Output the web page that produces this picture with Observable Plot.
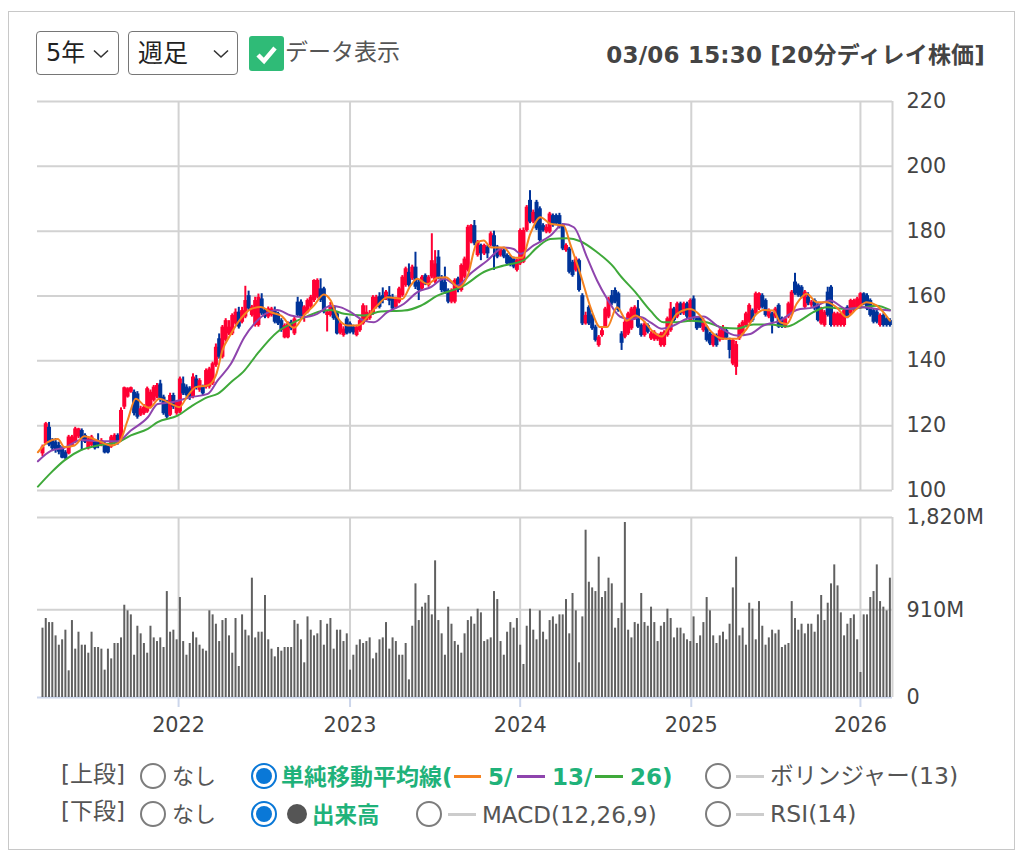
<!DOCTYPE html>
<html lang="ja">
<head>
<meta charset="utf-8">
<script src="https://cdn.jsdelivr.net/npm/d3@7"></script>
<script src="https://cdn.jsdelivr.net/npm/@observablehq/plot@0.6"></script>
<style>
html,body{margin:0;padding:0;background:#fff}
#page{position:relative;width:1024px;height:857px;overflow:hidden;font-family:"DejaVu Sans","Noto Sans CJK JP",sans-serif;color:#555}
#page svg{position:absolute;left:0;background:transparent;overflow:visible;font-family:"DejaVu Sans","Noto Sans CJK JP",sans-serif}
.t{position:absolute;white-space:nowrap;transform:translateY(-50%);line-height:1}
.box{position:absolute;box-sizing:border-box}
.g{color:#1fb27a;font-weight:700}
</style>
</head>
<body>
<div id="page"></div>
<script>
const opens=[111.3,114.4,119.5,115.4,114.9,113.9,112.9,111.8,111.3,113.9,
114.9,116.5,118.5,117,112.9,113.9,114.9,114.9,113.9,114.4,
113.9,113.4,114.9,117,115.4,125.7,128.8,130.3,130.3,129.8,
123.2,123.7,124.2,125.7,127.8,128.8,132.9,128.8,127.2,123.2,
129.3,123.7,124.2,132.9,131.9,131.4,128.8,134.4,130.9,131.9,
131.9,131.9,132.9,138.6,146.8,141.1,146.3,148.3,148.3,151.4,
155,151.9,153.5,160.1,154,150.9,150.9,159.1,155.5,153.5,
154,155.5,154.5,152.4,147.1,147.1,151.9,148.3,158.1,158.1,
154,155,156.6,158.6,159.6,162.2,162.2,154,154,156.5,
154.5,148.5,147.8,152.9,151.4,150.4,147.8,149.3,151.4,152.4,
153,154.5,156.5,159.8,160.1,159.1,160.1,159.6,156.5,158.1,
160.1,163.2,167.3,165.3,168.9,164.2,162.2,166.3,163.2,165.8,
164.3,172,165.8,164.2,161.7,158.1,158.1,165.3,161.7,165.8,
167.9,176.6,181.7,172.5,175.6,173,175.1,175.6,178.6,175.1,
172.5,174,172.5,172,171.4,167.9,169.9,170.4,180.2,189.5,
182.8,188.9,186.9,181.7,179.7,179.7,184.8,184.8,184.8,181.7,
174,174.5,170.4,167.9,170.9,160.1,151.4,156.5,154,150.4,
144.7,147.8,150.4,153.5,160.1,161.7,160.7,148.3,147.3,148.3,
149.9,153,156,150.9,147.8,150.9,146.8,146.5,146.5,144.7,
144.7,147.8,149.3,156,153.5,157.6,154.5,157.6,152.4,159.1,
153,153.5,149.3,150.4,148.3,144.7,147.8,146.3,146.8,149.3,
146.3,139,138,146.8,148.3,150.9,151.9,155.5,154.5,156,
160.1,158.6,153.5,154.5,153.5,157.1,153,150.4,153.5,154.5,
164.3,163.2,162.7,156.5,159.6,157.1,158.6,157.1,151.4,150.9,
161.2,162.7,150.9,150.9,150.9,150.9,156.5,154.5,155.5,156.5,
156.5,160.7,160.1,158.6,155.5,155,150.9,154,153,152.4];
const closes=[113.4,120.6,114,112.9,112.3,111.8,110,109.8,116.5,116.5,
119,119,115.4,114.9,115.9,116.5,112.9,113.9,115.4,111.6,
111.6,116.5,117,114.9,124.7,131.7,131.4,131.7,123.7,122.6,
125.2,125.7,131.4,130.3,131.9,132.4,127.8,123.7,122.6,129.3,
125.7,127.2,134.4,129.8,129.3,128.8,135,131.9,133.9,129.8,
137,137.5,139.1,144.2,141.1,150.4,152.4,150.4,154,155,
150.4,155.5,158.6,156,156.6,158.6,159.6,154.5,153.5,156,
156,151.9,151.4,149.4,150.9,151.4,149.9,152.9,154,153.5,
156.6,158.6,159.6,164.8,164.8,158.6,155,155,157,153,
148.3,151.4,149.8,148.3,148.8,148.6,150.4,152.4,157,155,
154.5,159.6,159.6,156.5,158.6,161.2,158.4,156,159.1,162.2,
165.8,168.4,163.2,168.9,162.7,161.7,165.8,163.7,165.8,170.9,
169.9,165.8,161.7,161.2,158.1,161.7,164.8,161.7,169.4,171.4,
181.2,181.7,176.1,176.6,173,175.6,173,179.2,175.1,172,
174.5,172,169.9,169.4,168.9,170.9,180.2,180.2,187.4,182.8,
185.8,180.7,177.1,180.2,181.2,185.3,181.7,182.3,181.2,174.5,
175.6,167.3,166.3,171.4,161.7,151.4,154,151.4,149.9,146.3,
147.3,149.3,156,159.1,157.6,158.1,155.5,145.4,151.9,154.5,
156,156.5,150.4,147.8,151.4,148.8,148.3,148.8,147.8,148.3,
148.8,153,156,152.4,157.6,154.5,157.6,153.5,158.6,153,
149.9,150.4,152.4,146.3,145.2,147.8,144.7,149.3,150.2,147,
143.2,146.3,145,150.9,151.9,154.5,157.1,152.4,160.7,160.7,
156.5,154,155.5,151.9,156,150.4,150.4,153,157.6,161.2,
160.7,160.1,159.6,161.2,157.6,158.1,156,152.4,156,155,
154,150.9,154.5,154.5,154.5,155.5,153.5,158.6,158.6,159.1,
160.7,157.6,156,154,151.9,151.9,154,150.9,150.9,150.9];
const highs=[114,121,121,116,116,114.9,113.5,112.3,117,117,
119.5,119.2,119,117.5,116.5,117,115.4,117.5,116,115,
114.4,117,117.5,117.5,125.5,131.9,131.7,131.9,131,130.5,
126,126.5,131.9,131,132.4,133,134,129.4,127.8,130,
130,127.8,135,135,132.6,132,136,135.5,134.5,132.5,
137.5,138,139.6,145.2,148.3,150.9,153,152.4,154.5,156,
156.5,156.5,163,161.5,157.1,159.6,160.6,160.7,156,156.6,
156.5,156.6,155,153,151.4,152,152.5,153.5,159.6,158.8,
157,159.1,160.2,165,165.3,165.3,162.7,155.5,158,157,
155,152,150.5,153.5,152,151,151,153,157.6,157,
155.5,160.1,160.2,161,162.5,161.7,162.9,160.5,159.6,162.7,
166.3,168.9,169.9,169.5,173.5,165,166.3,166.8,166.3,179.2,
174,174,166.3,168.9,162.2,162.2,165.3,165.8,169.9,172,
181.8,182,183.3,177.1,176,176,175.6,179.8,180,175.6,
175,174.5,173,172.5,172,171.4,180.7,181,187.9,192.5,
186.5,189.5,187.5,182.3,182,185.8,185.3,185.3,185.5,182.3,
176.1,175,171,172,171.4,160.7,155,157,154.5,151,
147.8,150,156.5,159.6,161.7,162.5,161.2,149,152.4,155,
156.5,157,158.6,151.4,152,151.4,149,149.3,148.3,148.8,
149.3,153.5,158,156.5,158.1,158.1,158.1,158.1,159.1,160,
153.5,154,153,150.9,148.8,148.3,148.3,149.9,150.9,150,
147,146.8,146,151.4,152.4,155,157.6,156,161.2,161,
160.7,159.1,156,155,156.5,157.6,153.5,153.5,158.1,161.7,
167,163.7,163.2,161.7,161,158.6,159.1,157.6,156.5,155.5,
162.7,163.2,155,155,155,156,157,159,159,159.6,
161,161,160.7,159.1,156,155.5,154.5,154.5,153.5,153];
const lows=[110.5,114,113.5,112,111.5,111,109.8,109.5,111,113.5,
114.5,116,112.3,114.5,112.5,113.5,112.5,112.9,113.5,111.3,
111.3,113,114.5,114,115,125,128.5,130,123,122,
122.8,123.2,123.8,125.2,127.3,128.3,127.2,123.2,122,122.8,
125,123.2,123.7,129.3,128.8,127.8,128.3,131,130.3,129.3,
131.3,131.3,132.4,138,140.5,140.6,145.8,147.8,147.8,151,
149.8,151.4,153,155.5,153.5,150.4,150.4,154,153,153,
153.5,151.4,150.9,148.8,146.8,146.8,149.3,147.8,153.5,153,
151.9,154.5,156,158,159.1,158,154.5,148.9,153.5,152.5,
148,148,147.3,148,148.3,148,147.4,148.8,151,152,
152.5,154,156,156,157.6,158.6,157,155.5,156,157.6,
159.6,162.7,162.7,164.8,162,158.6,161.7,163.2,162.7,165.3,
163.8,165,161,160.5,157.6,157.6,157.6,161,161.2,165.3,
167.4,176.1,175.5,172,170.9,172.5,171.5,175.1,167.9,171.5,
172,171.5,169.4,169,168.4,167.4,169.4,170,179.7,182.3,
182.3,180.2,176.6,179.7,179.2,179.2,181.2,181.7,180.7,174,
173.5,166.8,165.8,167.4,161.2,150.9,151,150.9,149.4,145.8,
144.2,147.3,150,153,157,157.6,155,143.2,146.8,147.8,
149.4,152.5,150,147.3,147.3,148.3,146.3,146,146,144.2,
144.2,147.3,148.8,151.9,153,154,154,153,151.9,152.5,
149.4,150,148.8,145.8,144.7,144.2,144.2,145.8,146.3,146.5,
140.6,138.5,135.5,146.3,147.8,150.4,151.4,151.9,154,155.5,
156,153.5,153,148.3,153,150,150,150,153,154,
160.2,159.6,159.1,156,157,156.5,155.5,152,151,150.4,
153.5,150.4,150.4,150.4,150.4,150.4,153,154,155,156,
156,157,155.5,153.5,151.4,151.4,150.4,150.4,150.4,150.4];
const volumes=[720,820,778,778,640,543,599,699,277,799,502,678,543,543,460,678,519,519,502,284,
502,401,561,561,619,958,900,858,439,740,661,561,460,740,619,581,619,519,1100,678,
699,599,1038,581,439,561,678,619,543,502,481,900,858,761,581,799,820,640,460,820,
322,858,699,640,1239,619,678,678,1059,599,502,422,519,481,519,519,519,799,761,599,
360,837,699,640,661,799,543,761,820,
502,699,699,581,661,284,439,543,599,561,581,619,401,460,599,619,778,502,619,581,
439,439,561,183,740,1180,799,938,979,1059,858,1419,799,661,439,938,761,581,543,460,
661,799,837,761,917,879,581,599,619,1100,1017,581,439,678,778,720,820,543,343,740,
917,699,599,900,678,599,799,837,761,858,858,1017,661,1080,900,360,837,1737,1197,1138,
1100,1457,1038,1100,1239,1180,720,820,
979,1817,699,619,778,761,1080,778,740,938,778,581,740,778,917,820,619,720,720,661,
599,581,837,561,640,778,1038,900,640,561,640,678,599,761,1138,1457,640,720,543,979,
917,599,996,740,543,619,699,661,699,519,543,561,996,820,699,761,661,761,761,678,
858,1059,799,979,1180,1377,1159,879,640,761,820,858,599,260,858,858,1038,1100,1377,996,
938,900,1239];
// moving averages read as [week, price] points from the picture
const ma5=[[-1.4,111.8],[1.6,114.9],[4.7,115.9],[6.7,113.4],[9.8,113.9],[12.8,116.7],[16.9,115.4],[21,113.9],[23.5,114.9],[26,121.6],[28.5,128.3],[31.1,126.2],[32.7,125.5],[35.7,128.3],[39.3,126.7],[41.8,125.7],[44.4,129.3],[46.9,131.9],[50.5,132.4],[53,135.5],[55,143.2],[57.6,148.3],[60.6,153],[63.7,156],[66.7,156.6],[69.8,155],[72.8,154],[76.9,150.2],[79.9,154],[83,157.1],[86,160.5],[88.1,158.6],[90.1,153.5],[93.2,150.9],[96.2,150.9],[99.3,153.5],[102.3,157],[105.4,159.6],[110,159.1],[112.5,163.2],[114.6,165.3],[117.6,163.7],[120.7,165.6],[123.2,165.8],[127.3,162.7],[129.8,165.8],[132.9,176.6],[134.9,177.1],[137,175],[141,175],[144,171.8],[146.6,171.8],[149.1,179.2],[152.2,184.3],[155.2,182.3],[159.3,181.7],[161.3,176],[164.4,166.8],[167.5,156.5],[170.5,150.4],[172.6,150.4],[175.6,156.5],[178.6,152.4],[181.2,154],[183.7,152.4],[186.3,149.3],[189.3,147.5],[191.4,150.4],[193.9,154.5],[198,156],[201,154],[204.1,149.3],[208.2,146.8],[212.2,146.8],[214.8,149.3],[218.3,154.5],[220.3,155.7],[223.4,155.5],[225.5,151.9],[227.5,151.4],[230.5,157.6],[233.6,160.7],[236.6,158.1],[239.7,158.1],[242.7,156.5],[245.8,153.5],[248.8,156],[251.9,158.1],[254.9,157.1],[259,152.4]];
const ma13=[[-1.4,109],[2.7,112.3],[6.7,113.2],[11.8,115.6],[16.9,115.2],[23,115.2],[27,118.5],[32.2,122.6],[35.2,126.7],[39.3,127.2],[45.4,128.8],[50.5,129.8],[53.5,133.9],[57.6,139.1],[61.7,147.3],[64.7,151.4],[67.8,154.3],[71.8,155.7],[75.9,154],[80,153.5],[84,154.5],[88.1,157],[91.2,156.5],[94.2,155],[98.3,152.4],[101.3,151.9],[105.4,155],[110.5,157.6],[114.6,161.2],[118.6,162.7],[122.7,165.3],[126.8,163.2],[130.8,166.9],[135.9,170.9],[141,175],[144,174.5],[146.1,173],[150.1,175.6],[155.2,178.6],[159.3,182.2],[162.4,181.2],[166.4,172],[169.5,164.8],[172.6,159.1],[176.6,153.6],[179.7,152.8],[182.7,153.5],[185.8,151.9],[189.3,149.9],[192.9,150.9],[197,153],[202,153.7],[206.1,150.9],[212.2,147.8],[216.3,148.3],[220.3,150.9],[225.5,152.4],[230.5,155.7],[235.6,156.5],[240.7,158.6],[245.8,156],[250.8,156.5],[254.9,156],[259,155.5]];
const ma26=[[-1.4,101.2],[2.7,105.6],[6.7,109.3],[11.8,112.5],[16.9,113.9],[23,114.9],[27,117],[32.2,119],[35.2,121.1],[41.3,123.1],[45.4,125.9],[50.5,128.8],[53.5,129.8],[57.6,133.4],[61.7,137],[65.7,142.2],[71.8,148.9],[75.9,151.4],[81,153.8],[86,155.5],[88.1,155.7],[92.2,154.5],[98.2,154],[103.4,155.2],[110.5,155.5],[115.6,157],[120.7,160.1],[128.8,163.2],[134.9,167.4],[141,169.4],[147,171],[151.2,175],[155.2,177.6],[160.3,177.8],[164.4,176.9],[169.5,173.5],[174.6,168.9],[176.6,166.3],[181.2,161.2],[185.8,155.5],[189.8,151.9],[193.9,151.9],[198,152.4],[203,151.9],[208.2,150.2],[212.2,150],[217.3,151.2],[222.4,151.2],[227.5,150.6],[231.5,152.4],[235.6,155],[239.7,156.5],[245.8,156],[250.8,156.5],[254.9,157],[259,155.7]];
const yearWeeks=[41.6,94,146,198.3,250];
const yearLabels=["2022","2023","2024","2025","2026"];
const priceTicks=[100,120,140,160,180,200,220];
const volumeTicks=[0,910,1869];
const volumeTickLabels=["0","910M","1,820M"];
const volumeTop=1869;
const weekDomain=[-1.525,259.8];

const GRID="#d2d2d2",RED="#ff0033",BLUE="#003399",VOL="#606060";
const FS=20.8;
const weeks=d3.range(opens.length).map(i=>({i,o:opens[i],c:closes[i],h:highs[i],l:lows[i],v:volumes[i]}));
const col=d=>d.c>=d.o?RED:BLUE;
const page=document.getElementById("page");

const price=Plot.plot({
  width:1024,height:500,marginLeft:37,marginRight:132,marginTop:101,marginBottom:10,
  x:{domain:weekDomain,axis:null},
  y:{domain:[100,220],axis:null},
  marks:[
    Plot.ruleY(priceTicks,{stroke:GRID,strokeWidth:2}),
    Plot.ruleX([...yearWeeks,weekDomain[1]],{stroke:GRID,strokeWidth:2}),
    Plot.axisY({anchor:"right",label:null,ticks:priceTicks,tickSize:0,tickPadding:14,fontSize:FS,fill:"#444",tickFormat:d=>String(d)}),
    Plot.ruleX(weeks,{x:"i",y1:"l",y2:"h",stroke:col,strokeWidth:2}),
    Plot.ruleX(weeks,{x:"i",y1:"o",y2:"c",stroke:col,strokeWidth:4}),
    Plot.line(ma26,{x:d=>d[0],y:d=>d[1],stroke:"#3fa93a",strokeWidth:2,curve:"monotone-x"}),
    Plot.line(ma13,{x:d=>d[0],y:d=>d[1],stroke:"#8e44ad",strokeWidth:2,curve:"monotone-x"}),
    Plot.line(ma5,{x:d=>d[0],y:d=>d[1],stroke:"#f58220",strokeWidth:2,curve:"monotone-x"})
  ]
});
price.style.top="0px";page.appendChild(price);

const vol=Plot.plot({
  width:1024,height:260,marginLeft:37,marginRight:132,marginTop:17,marginBottom:63,
  x:{domain:weekDomain,axis:null},
  y:{domain:[0,volumeTop],axis:null},
  marks:[
    Plot.ruleY([910,volumeTop],{stroke:GRID,strokeWidth:2}),
    Plot.ruleX([...yearWeeks,weekDomain[1]],{stroke:GRID,strokeWidth:2}),
    Plot.ruleY([0],{stroke:"#ccd6eb",strokeWidth:2}),
    Plot.axisX({anchor:"bottom",label:null,ticks:yearWeeks,tickSize:10,tickPadding:10,fontSize:FS,stroke:"#ccd6eb",strokeWidth:2,fill:"#444",tickFormat:d=>yearLabels[yearWeeks.indexOf(d)]}),
    Plot.axisY({anchor:"right",label:null,ticks:volumeTicks,tickSize:0,tickPadding:14,fontSize:FS,fill:"#444",tickFormat:d=>volumeTickLabels[volumeTicks.indexOf(d)]}),
    Plot.ruleX(weeks,{x:"i",y1:0,y2:"v",stroke:VOL,strokeWidth:2})
  ]
});
vol.style.top="500px";page.appendChild(vol);

// surrounding controls
function box(l,t,w,h,css){const e=document.createElement("div");e.className="box";e.style.cssText+=`left:${l}px;top:${t}px;width:${w}px;height:${h}px;${css||""}`;page.appendChild(e);return e}
function text(s,l,cy,size,cls,css,right){const e=document.createElement("div");e.className="t"+(cls?" "+cls:"");e.textContent=s;e.style.cssText+=`${right?"right:"+right+"px":"left:"+l+"px"};top:${cy}px;font-size:${size}px;${css||""}`;page.appendChild(e);return e}
function chevron(l,t){const e=document.createElementNS("http://www.w3.org/2000/svg","svg");e.setAttribute("width",16);e.setAttribute("height",10);e.style.cssText=`left:${l}px;top:${t}px`;e.innerHTML='<polyline points="1,1.5 8,8 15,1.5" fill="none" stroke="#333" stroke-width="1.6"/>';page.appendChild(e)}
function radio(cx,cy,on){if(on){box(cx-13,cy-13,26,26,"border-radius:50%;border:2px solid #0a78d7;background:#fff");box(cx-8,cy-8,16,16,"border-radius:50%;background:#0a78d7")}else box(cx-13,cy-13,26,26,"border-radius:50%;border:2px solid #7d7d7d;background:#fff")}
function dash(l,w,cy,c){box(l,cy-1.5,w,3,"background:"+c)}

box(8,11,1007,839,"border:1.5px solid #c8c8c8");
box(36,31,83,44,"border:1.5px solid #767676;border-radius:4px");
text("5年",46,53,24,"","color:#222");chevron(93,49);
box(128,31,110,44,"border:1.5px solid #767676;border-radius:4px");
text("週足",138,53,25,"","color:#222");chevron(213,49);
box(249,36,35,35,"background:#2fbb77;border-radius:3px");
(function(){const e=document.createElementNS("http://www.w3.org/2000/svg","svg");e.setAttribute("width",35);e.setAttribute("height",35);e.style.cssText="left:249px;top:36px";e.innerHTML='<polyline points="9,19 15,25 26,12" fill="none" stroke="#fff" stroke-width="4.5"/>';page.appendChild(e)})();
text("データ表示",285,52,23);
text("03/06 15:30 [20分ディレイ株価]",0,55,23,"","font-weight:700;color:#444;letter-spacing:.2px",39);

const R1=775.5,R2=814;
text("[上段]",61,R1-2,23);text("[下段]",61,R2-3,23);
radio(153,R1,false);text("なし",172,R1+1,22);
radio(263.5,R1,true);text("単純移動平均線(",281,R1+1,23,"g");
dash(454,27,R1+1,"#f58220");text("5/",488,R1+1,23,"g");
dash(517,28,R1+1,"#8e44ad");text("13/",552,R1+1,23,"g");
dash(595,28,R1+1,"#3fa93a");text("26)",630,R1+1,23,"g");
radio(717.5,R1,false);dash(736,28,R1+1,"#cccccc");text("ボリンジャー(13)",770,R1+1,23.5);
radio(153,R2,false);text("なし",172,R2+1,22);
radio(263.5,R2,true);box(286.5,R2-10,20,20,"border-radius:50%;background:#555");text("出来高",312,R2+1,22.5,"g");
radio(429,R2,false);dash(448,28,R2,"#cccccc");text("MACD(12,26,9)",482,R2+1,23);
radio(717.5,R2,false);dash(736,28,R2,"#cccccc");text("RSI(14)",770,R2+1,23.5);
</script>
</body>
</html>
